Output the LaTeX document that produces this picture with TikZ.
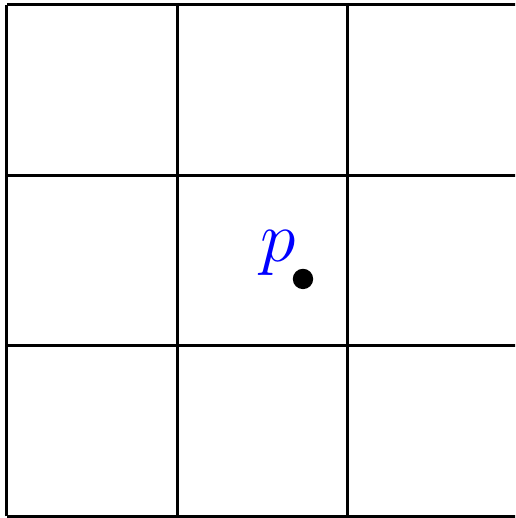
\documentclass[tikz,border=0pt]{standalone}
\usepackage{tikz}

\begin{document}
\begin{tikzpicture}[scale=1, line width=0.5pt,
    dot/.style={circle, fill=black, inner sep=0pt, minimum size=3.4pt},
    ptlabel/.style={text=blue, inner sep=0pt, font=\large}]
                \clip (-0.041,-0.009) rectangle (2.98,3.029);
                \foreach \i in {0,...,3} {
                    \draw (\i,0) -- (\i,3);
                    \draw (0,\i) -- (3.2,\i);
                }
                \node[dot] (pt) at (1.736,1.393) {};
                \node[ptlabel] (plabel) at (1.589,1.545) {$p$};
            \end{tikzpicture}
\end{document}
